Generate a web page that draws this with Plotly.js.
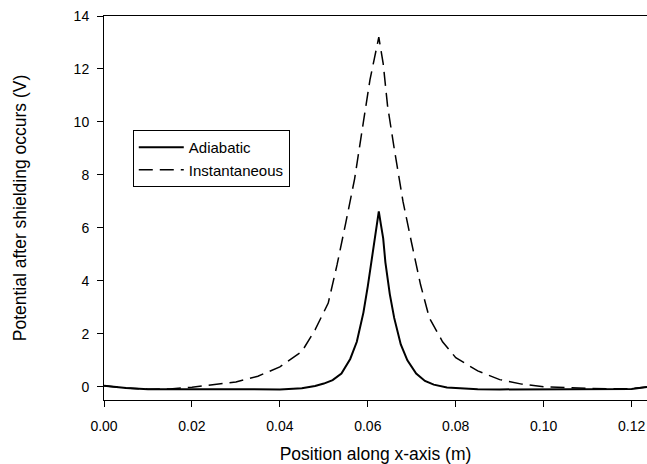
<!DOCTYPE html>
<html>
<head>
<meta charset="utf-8">
<script src="https://cdn.plot.ly/plotly-3.0.1.min.js"></script>
<style>html,body{margin:0;padding:0;background:#fff;}#chart{width:647px;height:464px;}</style>
</head>
<body>
<div id="chart"></div>
<script>
// Adiabatic (solid)
const adiabaticX = [0, 0.005, 0.01, 0.02, 0.03, 0.04, 0.045, 0.048, 0.050, 0.052, 0.054, 0.056, 0.0575, 0.059, 0.060, 0.061, 0.062, 0.0625,
  0.063, 0.0635, 0.064, 0.065, 0.066, 0.0675, 0.069, 0.071, 0.073, 0.075, 0.078, 0.085, 0.09, 0.10, 0.11, 0.115, 0.12, 0.1235];
const adiabaticY = [0.04, -0.05, -0.09, -0.10, -0.10, -0.10, -0.06, 0.03, 0.12, 0.25, 0.5, 1.05, 1.7, 2.8, 3.8, 5.0, 6.1, 6.62,
  6.1, 5.6, 4.7, 3.5, 2.6, 1.6, 1.0, 0.5, 0.22, 0.08, -0.03, -0.09, -0.10, -0.10, -0.10, -0.10, -0.08, -0.01];

// Instantaneous (dashed)
const instX = [0, 0.005, 0.01, 0.015, 0.02, 0.025, 0.03, 0.035, 0.04, 0.045, 0.048, 0.051, 0.053, 0.055, 0.057, 0.059, 0.0605, 0.0615, 0.0625,
  0.0635, 0.0645, 0.066, 0.068, 0.070, 0.072, 0.074, 0.077, 0.080, 0.085, 0.090, 0.095, 0.100, 0.105, 0.110, 0.115, 0.120, 0.1235];
const instY = [0.04, -0.05, -0.09, -0.08, -0.02, 0.07, 0.18, 0.4, 0.75, 1.33, 2.15, 3.16, 4.6, 6.2, 7.85, 10.0, 11.6, 12.4, 13.2,
  12.2, 10.6, 9.0, 7.0, 5.4, 3.85, 2.6, 1.7, 1.1, 0.6, 0.27, 0.1, 0.0, -0.04, -0.06, -0.08, -0.07, -0.01];

const xTickVals = [0, 0.02, 0.04, 0.06, 0.08, 0.10, 0.12];
const xTickText = ['0.00', '0.02', '0.04', '0.06', '0.08', '0.10', '0.12'];
const yTickVals = [0, 2, 4, 6, 8, 10, 12, 14];

const fam = 'Liberation Sans, Arial, sans-serif';
const f = (s) => ({family: fam, size: s, color: '#000'});

const traces = [
  {x: adiabaticX, y: adiabaticY, name: 'Adiabatic', type: 'scatter', mode: 'lines',
   line: {color: '#000', width: 2}},
  {x: instX, y: instY, name: 'Instantaneous', type: 'scatter', mode: 'lines',
   line: {color: '#000', width: 1.5, dash: '14px,7px'}}
];

const layout = {
  width: 647, height: 464,
  margin: {l: 104, r: 0, t: 16, b: 64},
  paper_bgcolor: '#fff', plot_bgcolor: '#fff',
  font: f(14),
  showlegend: true,
  legend: {x: 0.053, y: 0.703, xanchor: 'left', yanchor: 'top',
    bordercolor: '#000', borderwidth: 1, bgcolor: '#fff',
    font: f(15), tracegroupgap: 0, itemwidth: 45},
  xaxis: {range: [0, 0.1235], tickvals: xTickVals, ticktext: xTickText,
    showgrid: false, zeroline: false, showline: true, linecolor: '#000', linewidth: 1,
    mirror: true, ticks: 'outside', ticklen: 6, tickcolor: '#000', ticklabelstandoff: 7,
    tickfont: f(14),
    title: {text: 'Position along x-axis (m)', font: f(17.5), standoff: 14}},
  yaxis: {range: [-0.5, 14], tickvals: yTickVals,
    showgrid: false, zeroline: false, showline: true, linecolor: '#000', linewidth: 1,
    ticks: 'outside', ticklen: 6, tickcolor: '#000', ticklabelstandoff: 5,
    tickfont: f(14),
    title: {text: 'Potential after shielding occurs (V)', font: f(17.5), standoff: 42}}
};

Plotly.newPlot('chart', traces, layout, {displayModeBar: false, staticPlot: true});
</script>
</body>
</html>
